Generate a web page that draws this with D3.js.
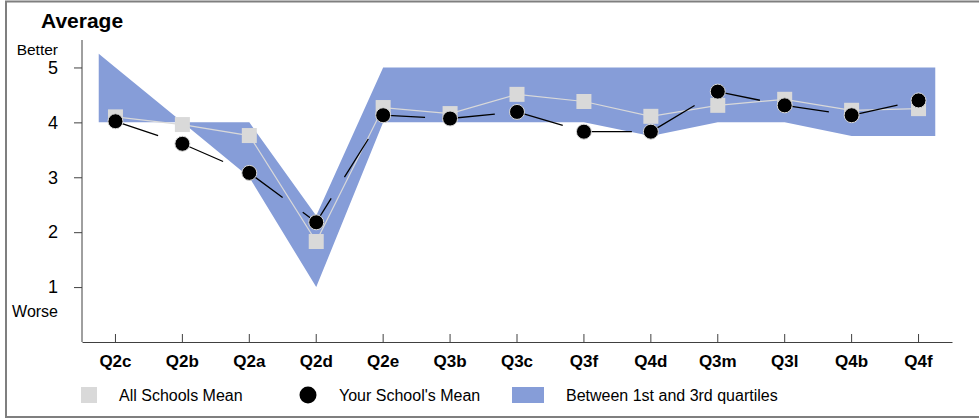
<!DOCTYPE html>
<html>
<head>
<meta charset="utf-8">
<script src="https://cdn.jsdelivr.net/npm/d3@7"></script>
<style>
  html, body { margin: 0; padding: 0; background: #fff; }
  svg { display: block; font-family: Arial, "Liberation Sans", sans-serif; }
</style>
</head>
<body>
<svg id="chart" width="979" height="419"></svg>
<script>
const categories = ["Q2c","Q2b","Q2a","Q2d","Q2e","Q3b","Q3c","Q3f","Q4d","Q3m","Q3l","Q4b","Q4f"];
const allSchoolsMean = [4.10,3.96,3.76,1.83,4.27,4.16,4.51,4.38,4.11,4.31,4.42,4.22,4.25];
const yourSchoolMean = [4.02,3.61,3.08,2.18,4.13,4.07,4.19,3.83,3.83,4.56,4.31,4.13,4.40];
const quartile1 = [4,4,3,1,4,4,4,4,3.75,4,4,3.75,3.75];
const quartile3 = [5,4,4,2.3,5,5,5,5,5,5,5,5,5];
const yTicks = [1,2,3,4,5];
const legendLabels = ["All Schools Mean","Your School's Mean","Between 1st and 3rd quartiles"];

const svg = d3.select("#chart");
const BAND_COLOR = "#869dd8";
const GREY = "#d9d9d9";

// outer frame
svg.append("rect").attr("x",6).attr("y",1.5).attr("width",990).attr("height",415.5)
  .attr("fill","none").attr("stroke","#7f7f7f").attr("stroke-width",2);

const x = d3.scaleBand().domain(categories).range([82,952]);
const y = d3.scaleLinear().domain([0,5.5]).range([342,40]);
const cx = c => x(c) + x.bandwidth()/2;
const step = x.step();

// quartile band, extended a quarter step past the ends
const n = categories.length;
const bandPts = categories.map((c,i)=>({x:cx(c), lo:quartile1[i], hi:quartile3[i]}));
const ext = 0.25;
const first = {x: bandPts[0].x - ext*step,
  lo: quartile1[0] - ext*(quartile1[1]-quartile1[0]),
  hi: quartile3[0] - ext*(quartile3[1]-quartile3[0])};
const last = {x: bandPts[n-1].x + ext*step,
  lo: quartile1[n-1] + ext*(quartile1[n-1]-quartile1[n-2]),
  hi: quartile3[n-1] + ext*(quartile3[n-1]-quartile3[n-2])};
const bandAll = [first, ...bandPts, last];
svg.append("path").datum(bandAll)
  .attr("fill",BAND_COLOR)
  .attr("d", d3.area().x(d=>d.x).y0(d=>y(d.lo)).y1(d=>y(d.hi)));

// axes
const yAxis = svg.append("g").attr("transform","translate(82,0)")
  .call(d3.axisLeft(y).tickValues(yTicks).tickSize(8).tickFormat(d3.format("d")));
yAxis.select(".domain").attr("d", `M0,${y(0)}V${y(5.5)}`).attr("stroke","#404040");
yAxis.selectAll(".tick line").attr("stroke","#404040");
yAxis.selectAll(".tick text").attr("x",-24).attr("font-size",18).attr("fill","#000")
  .attr("font-family","Arial, 'Liberation Sans', sans-serif");

const xAxis = svg.append("g").attr("transform",`translate(0,${y(0)})`)
  .call(d3.axisBottom(x).tickSize(-8).tickSizeOuter(0));
xAxis.select(".domain").attr("stroke","#404040");
xAxis.selectAll(".tick line").attr("stroke","#404040");
xAxis.selectAll(".tick text").attr("y",25).attr("dy","0").attr("font-size",17)
  .attr("font-weight","bold").attr("fill","#000")
  .attr("font-family","Arial, 'Liberation Sans', sans-serif");

// labels
svg.append("text").attr("x",41).attr("y",28).attr("font-size",21).attr("font-weight","bold").text("Average");
svg.append("text").attr("x",58).attr("y",55).attr("text-anchor","end").attr("font-size",15.5).text("Better");
svg.append("text").attr("x",58).attr("y",317).attr("text-anchor","end").attr("font-size",16).text("Worse");

// all schools mean
const line = d3.line().x(d=>d.x).y(d=>d.y);
const allPts = categories.map((c,i)=>({x:cx(c), y:y(allSchoolsMean[i])}));
const yourPts = categories.map((c,i)=>({x:cx(c), y:y(yourSchoolMean[i])}));
svg.append("path").datum(allPts).attr("fill","none").attr("stroke",GREY).attr("stroke-width",1.2).attr("d",line);
svg.append("g").selectAll("rect").data(allPts).join("rect")
  .attr("x",d=>d.x-7.5).attr("y",d=>d.y-7.5).attr("width",15).attr("height",15).attr("fill",GREY);

// your school mean
svg.append("path").datum(yourPts).attr("fill","none").attr("stroke","#000").attr("stroke-width",1.3)
  .attr("stroke-dasharray","45,25").attr("d",line);
svg.append("g").selectAll("circle").data(yourPts).join("circle")
  .attr("cx",d=>d.x).attr("cy",d=>d.y).attr("r",7.5).attr("fill","#000")
  .attr("stroke",GREY).attr("stroke-width",1);

// legend
const lg = svg.append("g");
lg.append("rect").attr("x",81).attr("y",387).attr("width",16).attr("height",16).attr("fill",GREY);
lg.append("text").attr("x",119).attr("y",401).attr("font-size",16).text(legendLabels[0]);
lg.append("circle").attr("cx",308).attr("cy",395).attr("r",8.5).attr("fill","#000");
lg.append("text").attr("x",339).attr("y",401).attr("font-size",16).text(legendLabels[1]);
lg.append("rect").attr("x",512).attr("y",387).attr("width",32).attr("height",16).attr("fill",BAND_COLOR);
lg.append("text").attr("x",566).attr("y",401).attr("font-size",16).text(legendLabels[2]);
</script>
</body>
</html>
